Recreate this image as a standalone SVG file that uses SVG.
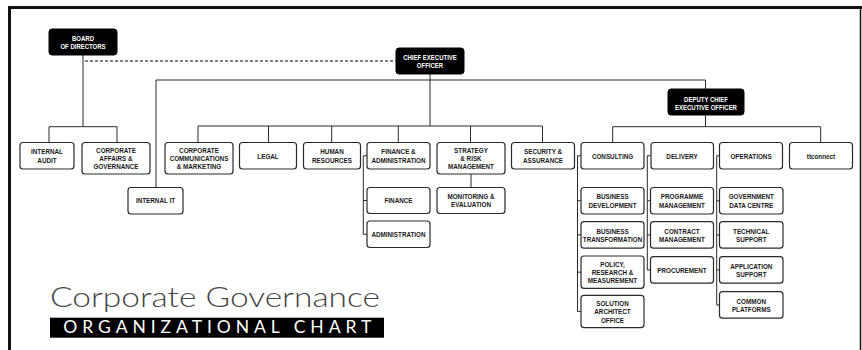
<svg xmlns="http://www.w3.org/2000/svg" width="862" height="350" viewBox="0 0 862 350">
<style>
.box{fill:#fff;stroke:#2a2a2a;stroke-width:1.2}
.blk{fill:#000;stroke:#000;stroke-width:1}
.t{font-family:"Liberation Sans",Arial,sans-serif;font-weight:bold;font-size:8px;fill:#1a1a1a;text-anchor:middle}
.tw{font-family:"Liberation Sans",Arial,sans-serif;font-weight:bold;font-size:7.5px;fill:#fff;text-anchor:middle}
.c{fill:none;stroke:#2a2a2a;stroke-width:1}
.d{fill:none;stroke:#555;stroke-width:1.4;stroke-dasharray:3 2}
</style>
<rect width="862" height="350" fill="#fff"/>
<g id="frame">
<rect x="8" y="6" width="854" height="3" fill="#111"/>
<rect x="8" y="6" width="3" height="344" fill="#111"/>
<line x1="860.5" y1="6" x2="860.5" y2="350" stroke="#111" stroke-width="1.5"/>
</g>
<g id="connectors">
<path class="d" d="M85 61H396"/>
<path class="c" d="M83 55V126.7M49 126.7H117M49 126.7V142.5M117 126.7V142.5"/>
<path class="c" d="M430 74V126M156 80H705.5V89M156 80V187.5"/>
<path class="c" d="M198 126H542.5M198 126V142.5M268.5 126V142.5M331.7 126V142.5M398.3 126V142.5M470.5 126V142.5M542.5 126V142.5"/>
<path class="c" d="M471 174V187.5"/>
<path class="c" d="M367 155.75H363.3V234.25H367M363.3 200.5H367"/>
<path class="c" d="M705.5 115V126.7M612.7 126.7H820.7M612.7 126.7V142.5M820.7 126.7V142.5"/>
<path class="c" d="M581 155.75H577.5V311.45H581M577.5 200.75H581M577.5 234.95H581M577.5 272.15H581"/>
<path class="c" d="M650.5 155.75H647.3V269.95H650.5M647.3 200.75H650.5M647.3 234.95H650.5"/>
<path class="c" d="M719.5 155.75H716.7V305H719.5M716.7 200.75H719.5M716.7 234.95H719.5M716.7 269.95H719.5"/>
</g>
<g id="board"><rect class="blk" x="49" y="29" width="68" height="26" rx="3"/><text class="tw" transform="matrix(0.8 0 0 1 83 0)"><tspan x="0" y="41.3">BOARD</tspan><tspan x="0" y="49.3">OF DIRECTORS</tspan></text></g>
<g id="ceo"><rect class="blk" x="396" y="48" width="68" height="26" rx="3"/><text class="tw" transform="matrix(0.8 0 0 1 430 0)"><tspan x="0" y="59.8">CHIEF EXECUTIVE</tspan><tspan x="0" y="68.5">OFFICER</tspan></text></g>
<g id="deputy"><rect class="blk" x="668" y="89" width="76" height="26" rx="3"/><text class="tw" transform="matrix(0.8 0 0 1 706 0)"><tspan x="0" y="101.8">DEPUTY CHIEF</tspan><tspan x="0" y="109.6">EXECUTIVE OFFICER</tspan></text></g>
<g id="internal-audit"><rect class="box" x="20" y="142.5" width="54" height="26.5" rx="3"/><text class="t" transform="matrix(0.79 0 0 1 47 0)"><tspan x="0" y="154.4">INTERNAL</tspan><tspan x="0" y="162.7">AUDIT</tspan></text></g>
<g id="corporate-affairs"><rect class="box" x="82" y="142.5" width="68" height="31.5" rx="3"/><text class="t" transform="matrix(0.79 0 0 1 116 0)"><tspan x="0" y="152.75">CORPORATE</tspan><tspan x="0" y="161.05">AFFAIRS &amp;</tspan><tspan x="0" y="169.35">GOVERNANCE</tspan></text></g>
<g id="internal-it"><rect class="box" x="128" y="187.5" width="55" height="26.5" rx="3"/><text class="t" transform="matrix(0.79 0 0 1 155.5 0)"><tspan x="0" y="203.5">INTERNAL IT</tspan></text></g>
<g id="corporate-communications"><rect class="box" x="165" y="142.5" width="68" height="31.5" rx="3"/><text class="t" transform="matrix(0.79 0 0 1 199 0)"><tspan x="0" y="152.75">CORPORATE</tspan><tspan x="0" y="161.05">COMMUNICATIONS</tspan><tspan x="0" y="169.35">&amp; MARKETING</tspan></text></g>
<g id="legal"><rect class="box" x="239.5" y="142.5" width="57" height="26.5" rx="3"/><text class="t" transform="matrix(0.79 0 0 1 268 0)"><tspan x="0" y="158.55">LEGAL</tspan></text></g>
<g id="human-resources"><rect class="box" x="303.5" y="142.5" width="57" height="26.5" rx="3"/><text class="t" transform="matrix(0.79 0 0 1 332 0)"><tspan x="0" y="154.4">HUMAN</tspan><tspan x="0" y="162.7">RESOURCES</tspan></text></g>
<g id="finance-administration"><rect class="box" x="367" y="142.5" width="63" height="26.5" rx="3"/><text class="t" transform="matrix(0.79 0 0 1 398.5 0)"><tspan x="0" y="154.4">FINANCE &amp;</tspan><tspan x="0" y="162.7">ADMINISTRATION</tspan></text></g>
<g id="strategy"><rect class="box" x="437" y="142.5" width="68" height="31.5" rx="3"/><text class="t" transform="matrix(0.79 0 0 1 471 0)"><tspan x="0" y="152.75">STRATEGY</tspan><tspan x="0" y="161.05">&amp; RISK</tspan><tspan x="0" y="169.35">MANAGEMENT</tspan></text></g>
<g id="security"><rect class="box" x="511.5" y="142.5" width="63" height="26.5" rx="3"/><text class="t" transform="matrix(0.79 0 0 1 543 0)"><tspan x="0" y="154.4">SECURITY &amp;</tspan><tspan x="0" y="162.7">ASSURANCE</tspan></text></g>
<g id="finance"><rect class="box" x="367" y="187.5" width="63" height="26" rx="3"/><text class="t" transform="matrix(0.79 0 0 1 398.5 0)"><tspan x="0" y="203.3">FINANCE</tspan></text></g>
<g id="administration"><rect class="box" x="367" y="221" width="63" height="26.5" rx="3"/><text class="t" transform="matrix(0.79 0 0 1 398.5 0)"><tspan x="0" y="237.05">ADMINISTRATION</tspan></text></g>
<g id="monitoring"><rect class="box" x="437" y="187.5" width="68" height="26" rx="3"/><text class="t" transform="matrix(0.79 0 0 1 471 0)"><tspan x="0" y="199.15">MONITORING &amp;</tspan><tspan x="0" y="207.45">EVALUATION</tspan></text></g>
<g id="consulting"><rect class="box" x="581" y="142.5" width="63" height="26.5" rx="3"/><text class="t" transform="matrix(0.79 0 0 1 612.5 0)"><tspan x="0" y="158.55">CONSULTING</tspan></text></g>
<g id="delivery"><rect class="box" x="651" y="142.5" width="62.5" height="26.5" rx="3"/><text class="t" transform="matrix(0.79 0 0 1 682 0)"><tspan x="0" y="158.55">DELIVERY</tspan></text></g>
<g id="operations"><rect class="box" x="719.5" y="142.5" width="63" height="26.5" rx="3"/><text class="t" transform="matrix(0.79 0 0 1 751 0)"><tspan x="0" y="158.55">OPERATIONS</tspan></text></g>
<g id="ttconnect"><rect class="box" x="789.5" y="142.5" width="63" height="26.5" rx="3"/><text class="t" transform="matrix(0.79 0 0 1 821 0)"><tspan x="0" y="158.55">ttconnect</tspan></text></g>
<g id="business-development"><rect class="box" x="581" y="187.5" width="63" height="26.5" rx="3"/><text class="t" transform="matrix(0.79 0 0 1 612.5 0)"><tspan x="0" y="199.4">BUSINESS</tspan><tspan x="0" y="207.7">DEVELOPMENT</tspan></text></g>
<g id="business-transformation"><rect class="box" x="581" y="221.7" width="63" height="26.5" rx="3"/><text class="t" transform="matrix(0.79 0 0 1 612.5 0)"><tspan x="0" y="233.6">BUSINESS</tspan><tspan x="0" y="241.9">TRANSFORMATION</tspan></text></g>
<g id="policy"><rect class="box" x="581" y="256" width="63" height="32.3" rx="3"/><text class="t" transform="matrix(0.79 0 0 1 612.5 0)"><tspan x="0" y="266.65">POLICY,</tspan><tspan x="0" y="274.95">RESEARCH &amp;</tspan><tspan x="0" y="283.25">MEASUREMENT</tspan></text></g>
<g id="solution-architect"><rect class="box" x="581" y="295.3" width="63" height="32.3" rx="3"/><text class="t" transform="matrix(0.79 0 0 1 612.5 0)"><tspan x="0" y="305.95">SOLUTION</tspan><tspan x="0" y="314.25">ARCHITECT</tspan><tspan x="0" y="322.55">OFFICE</tspan></text></g>
<g id="programme"><rect class="box" x="650.5" y="187.5" width="63" height="26.5" rx="3"/><text class="t" transform="matrix(0.79 0 0 1 682 0)"><tspan x="0" y="199.4">PROGRAMME</tspan><tspan x="0" y="207.7">MANAGEMENT</tspan></text></g>
<g id="contract"><rect class="box" x="650.5" y="221.7" width="63" height="26.5" rx="3"/><text class="t" transform="matrix(0.79 0 0 1 682 0)"><tspan x="0" y="233.6">CONTRACT</tspan><tspan x="0" y="241.9">MANAGEMENT</tspan></text></g>
<g id="procurement"><rect class="box" x="650.5" y="256.7" width="63" height="26.5" rx="3"/><text class="t" transform="matrix(0.79 0 0 1 682 0)"><tspan x="0" y="272.75">PROCUREMENT</tspan></text></g>
<g id="government-data-centre"><rect class="box" x="719.5" y="187.5" width="63.5" height="26.5" rx="3"/><text class="t" transform="matrix(0.79 0 0 1 751.25 0)"><tspan x="0" y="199.4">GOVERNMENT</tspan><tspan x="0" y="207.7">DATA CENTRE</tspan></text></g>
<g id="technical-support"><rect class="box" x="719.5" y="221.7" width="63.5" height="26.5" rx="3"/><text class="t" transform="matrix(0.79 0 0 1 751.25 0)"><tspan x="0" y="233.6">TECHNICAL</tspan><tspan x="0" y="241.9">SUPPORT</tspan></text></g>
<g id="application-support"><rect class="box" x="719.5" y="256.7" width="63.5" height="26.5" rx="3"/><text class="t" transform="matrix(0.79 0 0 1 751.25 0)"><tspan x="0" y="268.6">APPLICATION</tspan><tspan x="0" y="276.9">SUPPORT</tspan></text></g>
<g id="common-platforms"><rect class="box" x="719.5" y="291.7" width="63.5" height="26.5" rx="3"/><text class="t" transform="matrix(0.79 0 0 1 751.25 0)"><tspan x="0" y="303.65">COMMON</tspan><tspan x="0" y="311.95">PLATFORMS</tspan></text></g>
<g id="title">
<text x="50" y="306.7" font-family="Lato,'Open Sans',sans-serif" font-weight="300" font-size="28" fill="#444" textLength="330" lengthAdjust="spacingAndGlyphs">Corporate Governance</text>
<rect x="50" y="317.7" width="334" height="20" fill="#000"/>
<text x="63.3" y="333.3" font-family="Lato,'Liberation Sans',sans-serif" font-size="17.5" fill="#fff" textLength="308" lengthAdjust="spacing">ORGANIZATIONAL CHART</text>
</g>
</svg>
